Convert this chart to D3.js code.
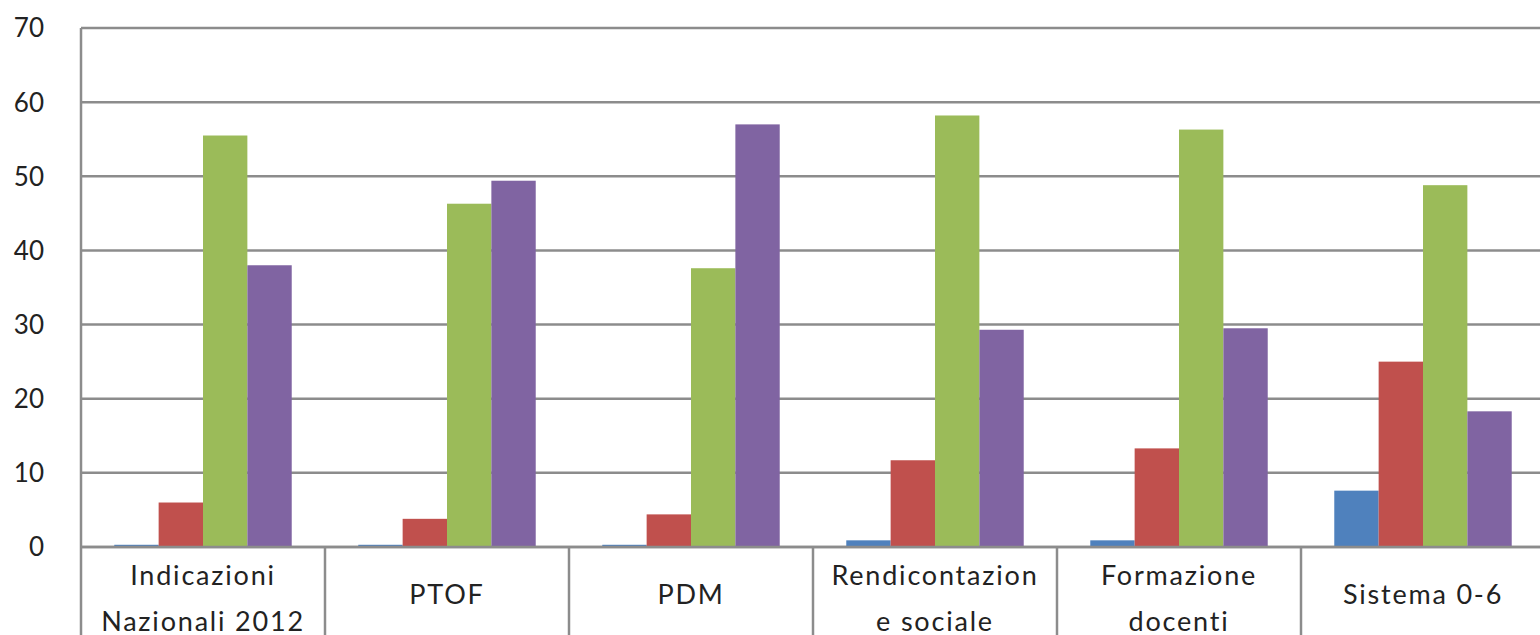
<!DOCTYPE html>
<html>
<head>
<meta charset="utf-8">
<script src="https://cdn.jsdelivr.net/npm/d3@7"></script>
<style>
  html, body { margin: 0; padding: 0; background: #fff; overflow: hidden; }
  text { font-family: Lato, "Open Sans", sans-serif; fill: #222; }
</style>
</head>
<body>
<div id="chart"></div>
<script>
// categories (each label split into its two display lines)
var categories = [
  ["Indicazioni", "Nazionali 2012"],
  ["PTOF"],
  ["PDM"],
  ["Rendicontazion", "e sociale"],
  ["Formazione", "docenti"],
  ["Sistema 0-6"]
];
var seriesKeys = ["s1", "s2", "s3", "s4"];
var s1 = [0.3, 0.3, 0.3, 0.9, 0.9, 7.6];
var s2 = [6.0, 3.8, 4.4, 11.7, 13.3, 25.0];
var s3 = [55.5, 46.3, 37.6, 58.2, 56.3, 48.8];
var s4 = [38.0, 49.4, 57.0, 29.3, 29.5, 18.3];
var yTicks = [0, 10, 20, 30, 40, 50, 60, 70];

var colors = ["#4f81bd", "#c0504d", "#9bbb59", "#8064a2"];

var W = 1540, H = 635;
var plotLeft = 81, plotRight = 1545, plotTop = 28, plotBottom = 547;

var svg = d3.select("#chart").append("svg")
    .attr("width", W)
    .attr("height", H);

var catNames = categories.map(function(c) { return c.join(" "); });

var x0 = d3.scaleBand()
    .domain(catNames)
    .range([plotLeft, plotRight])
    .paddingInner(0)
    .paddingOuter(0);

var x1 = d3.scaleBand()
    .domain(seriesKeys)
    .range([0, x0.bandwidth()])
    .paddingInner(0)
    .paddingOuter(0.75);

var y = d3.scaleLinear()
    .domain([0, 70])
    .range([plotBottom, plotTop]);

var data = catNames.map(function(name, i) {
  return { name: name, values: [s1[i], s2[i], s3[i], s4[i]] };
});

// gridlines
svg.append("g")
  .selectAll("line")
  .data(yTicks)
  .enter().append("line")
    .attr("x1", plotLeft)
    .attr("x2", W)
    .attr("y1", function(d) { return y(d); })
    .attr("y2", function(d) { return y(d); })
    .attr("stroke", "#8c8c8c")
    .attr("stroke-width", 2.5);

// y labels
svg.append("g")
  .selectAll("text")
  .data(yTicks)
  .enter().append("text")
    .attr("x", 44)
    .attr("y", function(d) { return y(d); })
    .attr("dy", "0.36em")
    .attr("text-anchor", "end")
    .attr("font-size", 26)
    .text(function(d) { return d; });

// bars
svg.append("g")
  .selectAll("g")
  .data(data)
  .enter().append("g")
    .attr("transform", function(d) { return "translate(" + x0(d.name) + ",0)"; })
  .selectAll("rect")
  .data(function(d) { return d.values.map(function(v, j) { return { key: seriesKeys[j], value: v, idx: j }; }); })
  .enter().append("rect")
    .attr("x", function(d) { return x1(d.key); })
    .attr("width", x1.bandwidth())
    .attr("y", function(d) { return y(d.value); })
    .attr("height", function(d) { return y(0) - y(d.value); })
    .attr("fill", function(d) { return colors[d.idx]; });

// x axis line redrawn on top of bars
svg.append("line")
  .attr("x1", plotLeft).attr("x2", W)
  .attr("y1", y(0)).attr("y2", y(0))
  .attr("stroke", "#8c8c8c")
  .attr("stroke-width", 2.5);

// vertical axis line and category separators
var seps = catNames.map(function(n) { return x0(n); });
svg.append("line")
  .attr("x1", plotLeft).attr("x2", plotLeft)
  .attr("y1", plotTop).attr("y2", H)
  .attr("stroke", "#8c8c8c")
  .attr("stroke-width", 2.5);
svg.append("g")
  .selectAll("line")
  .data(seps.slice(1))
  .enter().append("line")
    .attr("x1", function(d) { return d; })
    .attr("x2", function(d) { return d; })
    .attr("y1", plotBottom)
    .attr("y2", H)
    .attr("stroke", "#8c8c8c")
    .attr("stroke-width", 2.5);

// category labels
var lab = svg.append("g")
  .selectAll("text")
  .data(categories)
  .enter().append("text")
    .attr("text-anchor", "middle")
    .attr("font-size", 27)
    .attr("letter-spacing", 1.8)
    .attr("transform", function(d, i) { return "translate(" + (x0(catNames[i]) + x0.bandwidth() / 2) + ",0)"; });

lab.selectAll("tspan")
  .data(function(d) { return d.map(function(t, k) { return { t: t, k: k, n: d.length }; }); })
  .enter().append("tspan")
    .attr("x", 0)
    .attr("y", function(d) { return d.n === 1 ? 604 : 585 + d.k * 46; })
    .text(function(d) { return d.t; });
</script>
</body>
</html>
